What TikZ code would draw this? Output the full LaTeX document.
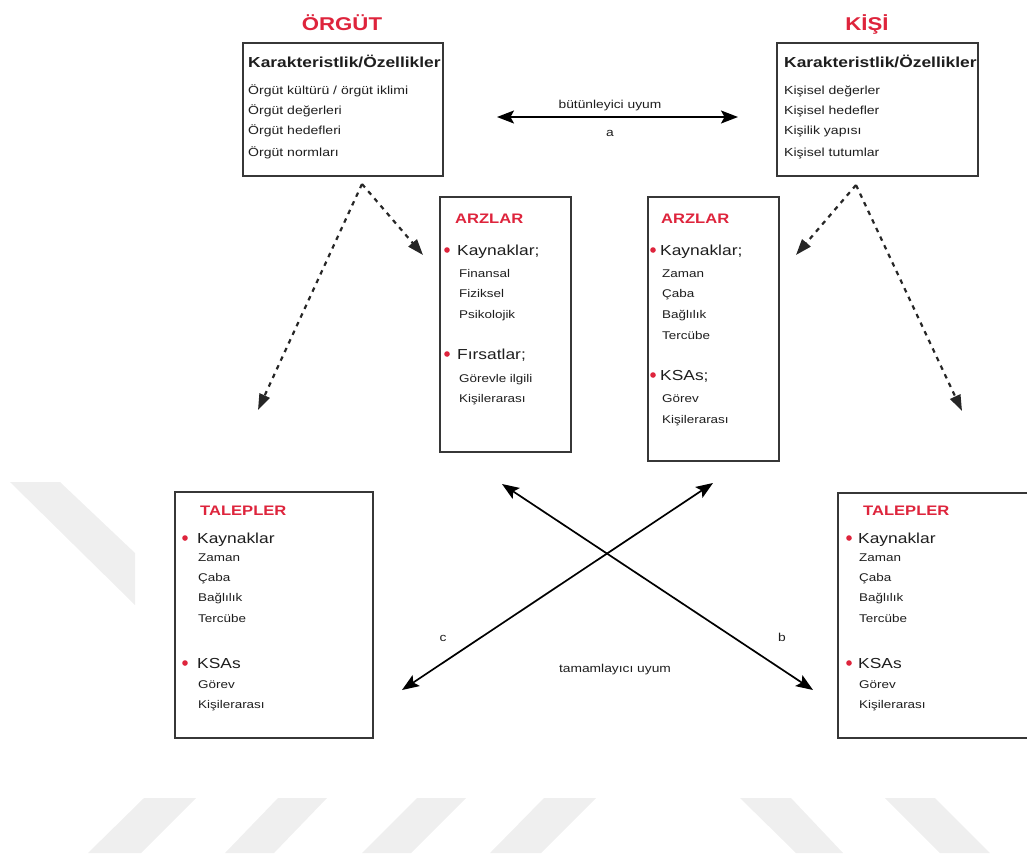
\documentclass[tikz,border=0pt]{standalone}
\usepackage{fontspec}
\setmainfont{Liberation Sans}[FakeStretch=1.2]
\usetikzlibrary{arrows.meta}
\definecolor{tred}{RGB}{222,36,60}
\definecolor{wm}{RGB}{239,239,239}
\definecolor{txtc}{RGB}{30,30,30}
\definecolor{boxc}{RGB}{55,55,55}
\tikzset{
  box/.style={draw=boxc, line width=1.6pt, anchor=north west, inner sep=0pt, outer sep=0pt, fill=white},
  titlet/.style={font=\fontsize{18.5}{22}\selectfont\bfseries, text=tred, anchor=base, inner sep=0pt},
  hdr/.style={font=\fontsize{14.5}{17}\selectfont\bfseries, text=txtc, anchor=base west, inner sep=0pt},
  lnt/.style={font=\fontsize{11.7}{14}\selectfont, text=txtc, anchor=base west, inner sep=0pt},
  sect/.style={font=\fontsize{13.8}{16}\selectfont\bfseries, text=tred, anchor=base west, inner sep=0pt},
  itemt/.style={font=\fontsize{14.5}{17}\selectfont, text=txtc, anchor=base west, inner sep=0pt},
  subt/.style={font=\fontsize{11.2}{13}\selectfont, text=txtc, anchor=base west, inner sep=0pt},
  lbl/.style={font=\fontsize{11.5}{14}\selectfont, text=txtc, anchor=base, inner sep=0pt},
  bul/.style={fill=tred},
  solidarr/.style={line width=1.7pt, draw=black, {Stealth[length=17pt,width=13pt,inset=3.5pt]}-{Stealth[length=17pt,width=13pt,inset=3.5pt]}},
  dasharr/.style={line width=2.2pt, draw=black!85, dash pattern=on 4.5pt off 5pt, -{Triangle[length=16pt,width=11pt]}}
}
\begin{document}
\begin{tikzpicture}[x=1pt,y=-1pt]
\useasboundingbox (0,0) rectangle (1027,855);
% watermark stripes
\fill[wm] (10,482) -- (60,482) -- (135,553) -- (135,605) -- cycle;
\fill[wm] (144,798) -- (196,798) -- (141,853) -- (88,853) -- cycle;
\fill[wm] (278,798) -- (327,798) -- (274,853) -- (225,853) -- cycle;
\fill[wm] (417,798) -- (466,798) -- (411,853) -- (362,853) -- cycle;
\fill[wm] (544,798) -- (596,798) -- (541,853) -- (490,853) -- cycle;
\fill[wm] (740,798) -- (791,798) -- (843,853) -- (796,853) -- cycle;
\fill[wm] (885,798) -- (935,798) -- (990,853) -- (940,853) -- cycle;

% titles
\node[titlet] (torg) at (342,30) {ÖRGÜT};
\node[titlet] (tkisi) at (867,30) {KİŞİ};

% top boxes
\node[box, minimum width=200pt, minimum height=133pt] (org) at (243,43) {};
\node[box, minimum width=201pt, minimum height=133pt] (kisi) at (777,43) {};
\node[hdr] (orgh) at (248,67) {Karakteristlik/Özellikler};
\node[lnt] (org1) at (248,94) {Örgüt kültürü / örgüt iklimi};
\node[lnt] (org2) at (248,114) {Örgüt değerleri};
\node[lnt] (org3) at (248,134) {Örgüt hedefleri};
\node[lnt] (org4) at (248,156) {Örgüt normları};
\node[hdr] (kisih) at (784,67) {Karakteristlik/Özellikler};
\node[lnt] (kisi1) at (784,94) {Kişisel değerler};
\node[lnt] (kisi2) at (784,114) {Kişisel hedefler};
\node[lnt] (kisi3) at (784,134) {Kişilik yapısı};
\node[lnt] (kisi4) at (784,156) {Kişisel tutumlar};

% ARZLAR boxes
\node[box, minimum width=131pt, minimum height=255pt] (arzL) at (440,197) {};
\node[box, minimum width=131pt, minimum height=264pt] (arzR) at (648,197) {};
\node[sect] (arzLh) at (455,223) {ARZLAR};
\fill[bul] (447,250) circle (2.8pt);
\node[itemt] (arzL1) at (457,255) {Kaynaklar;};
\foreach \t/\y [count=\i] in {Finansal/277, Fiziksel/297, Psikolojik/318}
  \node[subt] (arzLa\i) at (459,\y) {\t};
\fill[bul] (447,354) circle (2.8pt);
\node[itemt] (arzL2) at (457,359) {Fırsatlar;};
\foreach \t/\y [count=\i] in {Görevle ilgili/382, Kişilerarası/402}
  \node[subt] (arzLb\i) at (459,\y) {\t};

\node[sect] (arzRh) at (661,223) {ARZLAR};
\fill[bul] (653,250) circle (2.8pt);
\node[itemt] (arzR1) at (660,255) {Kaynaklar;};
\foreach \t/\y [count=\i] in {Zaman/277, Çaba/297, Bağlılık/318, Tercübe/339}
  \node[subt] (arzRa\i) at (662,\y) {\t};
\fill[bul] (653,375) circle (2.8pt);
\node[itemt] (arzR2) at (660,380) {KSAs;};
\foreach \t/\y [count=\i] in {Görev/402, Kişilerarası/423}
  \node[subt] (arzRb\i) at (662,\y) {\t};

% TALEPLER boxes
\node[box, minimum width=198pt, minimum height=246pt] (talL) at (175,492) {};
\node[box, minimum width=210pt, minimum height=245pt] (talR) at (838,493) {};
\node[sect] (talLh) at (200,515) {TALEPLER};
\fill[bul] (185,538) circle (2.8pt);
\node[itemt] (talL1) at (197,543) {Kaynaklar};
\foreach \t/\y [count=\i] in {Zaman/561, Çaba/581, Bağlılık/601.5, Tercübe/622}
  \node[subt] (talLa\i) at (198,\y) {\t};
\fill[bul] (185,663) circle (2.8pt);
\node[itemt] (talL2) at (197,668) {KSAs};
\foreach \t/\y [count=\i] in {Görev/688, Kişilerarası/708}
  \node[subt] (talLb\i) at (198,\y) {\t};

\node[sect] (talRh) at (863,515) {TALEPLER};
\fill[bul] (849,538) circle (2.8pt);
\node[itemt] (talR1) at (858,543) {Kaynaklar};
\foreach \t/\y [count=\i] in {Zaman/561, Çaba/581, Bağlılık/601.5, Tercübe/622}
  \node[subt] (talRa\i) at (859,\y) {\t};
\fill[bul] (849,663) circle (2.8pt);
\node[itemt] (talR2) at (858,668) {KSAs};
\foreach \t/\y [count=\i] in {Görev/688, Kişilerarası/708}
  \node[subt] (talRb\i) at (859,\y) {\t};

% connector end points
\coordinate (aL) at (497,117);
\coordinate (aR) at (738,117);
\coordinate (oTop) at (362,184);
\coordinate (oShort) at (423,255);
\coordinate (oLong) at (258,410);
\coordinate (kTop) at (856,185);
\coordinate (kShort) at (796,255);
\coordinate (kLong) at (962,411);
\coordinate (xTL) at (502,484);
\coordinate (xBR) at (813,690);
\coordinate (xBL) at (402,690);
\coordinate (xTR) at (713,483);

% connectors
\draw[solidarr] (aL) -- (aR);
\node[lbl] (labA1) at (610,108) {bütünleyici uyum};
\node[lbl] (labA2) at (610,136) {a};
\draw[dasharr] (oTop) -- (oShort);
\draw[dasharr] (oTop) -- (oLong);
\draw[dasharr] (kTop) -- (kShort);
\draw[dasharr] (kTop) -- (kLong);
\draw[solidarr] (xTL) -- (xBR);
\draw[solidarr] (xBL) -- (xTR);
\node[lbl] (labC) at (443,641) {c};
\node[lbl] (labB) at (782,641) {b};
\node[lbl] (labT) at (615,672) {tamamlayıcı uyum};
\end{tikzpicture}
\end{document}
